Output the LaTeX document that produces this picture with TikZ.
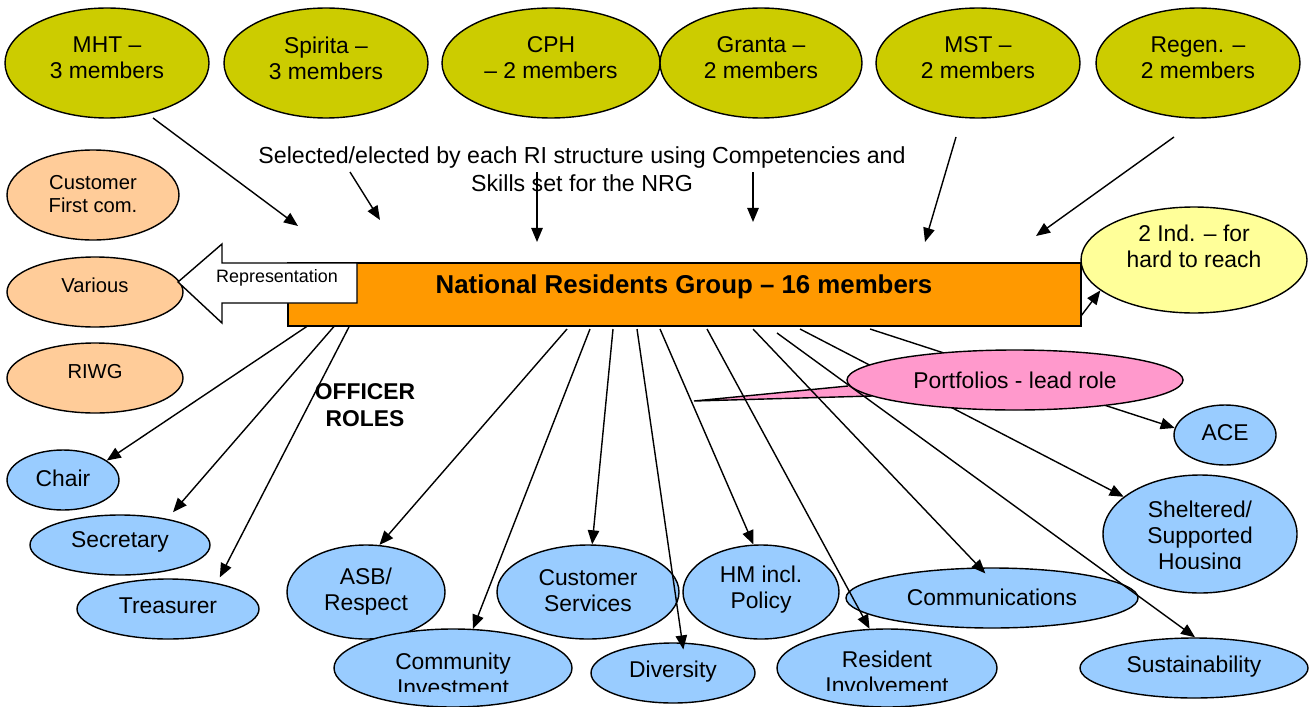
\documentclass[tikz,border=0pt]{standalone}
\usepackage{fontspec}
\setmainfont{Liberation Sans}
\usetikzlibrary{arrows.meta,shapes.geometric}
\definecolor{olivef}{HTML}{CCCC00}
\definecolor{peach}{HTML}{FFCC99}
\definecolor{barorange}{HTML}{FF9900}
\definecolor{paleyellow}{HTML}{FFFF99}
\definecolor{skyblue}{HTML}{99CCFF}
\definecolor{pinkf}{HTML}{FF99CC}
\begin{document}
\begin{tikzpicture}[x=0.02cm,y=-0.02cm,line width=0.8pt,
  ell/.style 2 args={ellipse, draw=black, line width=0.8pt, minimum width=#1*0.02cm, minimum height=#2*0.02cm, inner sep=0pt},
  txt/.style={font=\fontsize{13}{14.8}\selectfont, align=center, inner sep=0pt},
  smalltxt/.style={font=\fontsize{11.5}{13.6}\selectfont, align=center, inner sep=0pt},
  arr/.style={-{Triangle[length=8pt,width=6.5pt]}, line width=0.8pt}]
\useasboundingbox (0,0) rectangle (1310,706);

% ---- top ellipses
\node[ell={204}{110}, fill=olivef] (mht) at (107,63) {};
\node[txt] (mht-t) at (107,58) {MHT –\\3 members};
\node[ell={204}{110}, fill=olivef] (spi) at (326,63) {};
\node[txt] (spi-t) at (326,58) {Spirita –\\3 members};
\node[ell={218}{110}, fill=olivef] (cph) at (551,63) {};
\node[txt] (cph-t) at (551,58) {CPH\\– 2 members};
\node[ell={202}{110}, fill=olivef] (gra) at (761,63) {};
\node[txt] (gra-t) at (761,58) {Granta –\\2 members};
\node[ell={204}{110}, fill=olivef] (mst) at (978,63) {};
\node[txt] (mst-t) at (978,58) {MST –\\2 members};
\node[ell={204}{110}, fill=olivef] (reg) at (1198,63) {};
\node[txt] (reg-t) at (1198,58) {Regen. –\\2 members};

\node[txt, font=\fontsize{13.2}{15.8}\selectfont] (sel) at (582,169) {Selected/elected by each RI structure using Competencies and\\Skills set for the NRG};

% ---- left ellipses
\node[ell={172}{90}, fill=peach] (cfc) at (93,195) {};
\node[smalltxt] (cfc-t) at (93,194) {Customer\\First com.};
\node[ell={176}{70}, fill=peach] (var) at (95,292) {};
\node[smalltxt] (var-t) at (95,285) {Various};
\node[ell={176}{70}, fill=peach] (riwg) at (95,378) {};
\node[smalltxt] (riwg-t) at (95,372) {RIWG};

% ---- yellow
\node[ell={226}{106}, fill=paleyellow] (yel) at (1194,260) {};
\node[txt] (yel-t) at (1194,246) {2 Ind. – for\\hard to reach};

% ---- officer roles
\node[txt, font=\bfseries\fontsize{13}{15.3}\selectfont] (off) at (365,405) {OFFICER\\ROLES};

% ---- blue ellipses
\node[ell={112}{60}, fill=skyblue] (chair) at (63,480) {};
\node[txt] (chair-t) at (63,478) {Chair};
\node[ell={180}{60}, fill=skyblue] (secr) at (120,545) {};
\node[txt] (secr-t) at (120,542) {Secretary};
\node[ell={182}{60}, fill=skyblue] (treas) at (168,609) {};
\node[txt] (treas-t) at (168,606) {Treasurer};
\node[ell={158}{94}, fill=skyblue] (asb) at (366,592) {};
\node[txt] (asb-t) at (366,592) {ASB/\\Respect};
\node[ell={238}{78}, fill=skyblue] (commi) at (453,668) {};
\begin{scope}
\clip (320,600) rectangle (590,691.5);
\node[txt] (commi-t) at (453,674) {Community\\Investment};
\end{scope}
\node[ell={182}{94}, fill=skyblue] (custs) at (588,592) {};
\node[txt] (custs-t) at (588,591) {Customer\\Services};
\node[ell={164}{60}, fill=skyblue] (div) at (673,673) {};
\node[txt] (div-t) at (673,672) {Diversity};
\node[ell={156}{94}, fill=skyblue] (hm) at (761,592) {};
\node[txt] (hm-t) at (761,590) {HM incl.\\Policy};
\node[ell={292}{60}, fill=skyblue] (comm) at (992,598) {};
\node[txt] (comm-t) at (992,597) {Communications};
\node[ell={220}{78}, fill=skyblue] (resi) at (887,668) {};
\begin{scope}
\clip (770,600) rectangle (1000,690);
\node[txt] (resi-t) at (887,672.5) {Resident\\Involvement};
\end{scope}
\node[ell={194}{118}, fill=skyblue] (shel) at (1200,534) {};
\begin{scope}
\clip (1100,470) rectangle (1300,568);
\node[txt] (shel-t) at (1200,537.5) {Sheltered/\\Supported\\Housing};
\end{scope}
\node[ell={102}{60}, fill=skyblue] (ace) at (1225,435) {};
\node[txt] (ace-t) at (1225,433) {ACE};
\node[ell={228}{60}, fill=skyblue] (sust) at (1194,668) {};
\node[txt] (sust-t) at (1194,667) {Sustainability};

% ---- callout pointer
\draw[fill=pinkf] (848,386) -- (694,401) -- (872,396);

% ---- start points under the bar
\coordinate (o1) at (312,323);
\coordinate (o2) at (337,323);
\coordinate (o3) at (351,323);
\coordinate (p1) at (567,329);
\coordinate (p2) at (590,329);
\coordinate (p3) at (613,329);
\coordinate (p4) at (637,329);
\coordinate (p5) at (660,329);
\coordinate (p6) at (707,329);
\coordinate (p7) at (753,329);
\coordinate (p8) at (777,333);
\coordinate (p9) at (800,329);
\coordinate (p10) at (870,329);

\draw[arr] (o1) -- (chair.24);
\draw[arr, shorten >=5pt] (o2) -- (secr.29);
\draw[arr, shorten >=3.6pt] (o3) -- (treas.28);
\draw[arr] (p1) -- (asb.74);
\draw[arr] (p2) -- (commi.63);
\draw[arr] (p3) -- (custs.85);
\draw[arr, shorten >=-4pt] (p4) -- (div.73);
\draw[arr] (p5) -- (hm.99);
\draw[arr] (p6) -- (resi.114);
\draw[arr, shorten >=-4.7pt] (p7) -- (comm.112);
\draw[arr] (p8) -- (sust.88);
\draw[arr] (p9) -- (shel.154);
\draw[arr] (p10) -- (ace.172);

% ---- main bar
\node[draw, fill=barorange, line width=0.8pt, minimum width=793*0.02cm, minimum height=63*0.02cm, inner sep=0pt] (bar) at (684.5,294.5) {};
\node[font=\bfseries\fontsize{14.7}{17}\selectfont, inner sep=0pt] (bar-t) at (684,287) {National Residents Group – 16 members};

% ---- representation block arrow
\draw[fill=white, line width=0.8pt] (357,263) -- (222,263) -- (222,244) -- (178,282) -- (222,323) -- (222,303) -- (357,303) -- cycle;
\node[font=\fontsize{10.2}{12}\selectfont, inner sep=0pt] (rep) at (277,278) {Representation};

% ---- top arrows
\coordinate (a1s) at (153,118); \coordinate (a1e) at (298,226);
\coordinate (a2s) at (350,172); \coordinate (a2e) at (380,220);
\coordinate (a3s) at (537,172); \coordinate (a3e) at (537,242);
\coordinate (a4s) at (753,172); \coordinate (a4e) at (753,222);
\coordinate (a5s) at (956,137); \coordinate (a5e) at (925,242);
\coordinate (a6s) at (1174,137); \coordinate (a6e) at (1036,236);
\draw[arr] (a1s) -- (a1e);
\draw[arr] (a2s) -- (a2e);
\draw[arr] (a3s) -- (a3e);
\draw[arr] (a4s) -- (a4e);
\draw[arr] (a5s) -- (a5e);
\draw[arr] (a6s) -- (a6e);

% ---- to the yellow ellipse
\coordinate (yst) at (1081,316);
\draw[arr] (yst) -- (yel.198);

% ---- portfolios callout
\node[ell={336}{60}, fill=pinkf] (port) at (1015,380) {};
\node[txt] (port-t) at (1015,380) {Portfolios - lead role};
\end{tikzpicture}
\end{document}
